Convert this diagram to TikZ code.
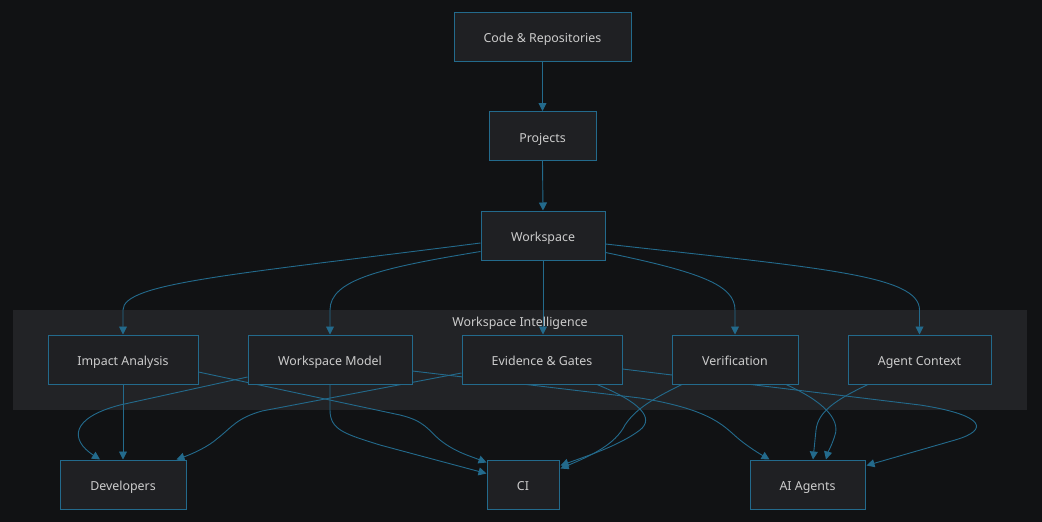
\documentclass[tikz,border=0pt]{standalone}
\usepackage{fontspec}
\setmainfont{Noto Sans}
\usetikzlibrary{arrows.meta,calc}
\definecolor{bgc}{HTML}{111214}
\definecolor{nodefill}{HTML}{1F2023}
\definecolor{clusterfill}{HTML}{222326}
\definecolor{edgec}{HTML}{236A8C}
\definecolor{txt}{HTML}{CCCCCC}
\pgfdeclarelayer{backl}
\pgfdeclarelayer{edgel}
\pgfsetlayers{backl,edgel,main}
\begin{document}
\begin{tikzpicture}[x=1pt,y=-1pt,
  box/.style={draw=edgec, fill=nodefill, line width=1pt, text=txt,
    font=\fontsize{12.4}{14}\selectfont, inner sep=0pt, minimum height=49pt,
    text height=12pt, text depth=0pt},
  clabel/.style={text=txt, font=\fontsize{12.4}{14}\selectfont, inner sep=0pt,
    text height=12pt, text depth=0pt},
  conn/.style={draw=edgec, line width=0.9pt, -{Triangle[length=8pt,width=8pt]}}]
\begin{pgfonlayer}{backl}
  \fill[bgc] (0,0) rectangle (1042,522);
  \fill[clusterfill] (13,310) rectangle (1027,410);
\end{pgfonlayer}
\useasboundingbox (0,0) rectangle (1042,522);

\node[clabel] (cl) at (520,320) {Workspace Intelligence};

\node[box, minimum width=177pt] (code) at (542.5,36.5) {Code \& Repositories};
\node[box, minimum width=107pt] (proj) at (542.5,136) {Projects};
\node[box, minimum width=124pt] (ws) at (543,235.5) {Workspace};

\node[box, minimum width=150pt] (ia) at (123,359.5) {Impact Analysis};
\node[box, minimum width=164pt] (wm) at (330,359.5) {Workspace Model};
\node[box, minimum width=160pt] (eg) at (542,359.5) {Evidence \& Gates};
\node[box, minimum width=126pt] (ver) at (735,359.5) {Verification};
\node[box, minimum width=143pt] (ac) at (919.5,359.5) {Agent Context};

\node[box, minimum width=126pt] (dev) at (123,484.5) {Developers};
\node[box, minimum width=72pt] (ci) at (523,484.5) {CI};
\node[box, minimum width=115pt] (ai) at (807.5,484.5) {AI Agents};

\begin{pgfonlayer}{edgel}
  \draw[conn] (code.south) -- (proj.north);
  \draw[conn] (proj.south) -- (ws.north);

  \draw[conn] ($(ws.west)+(0,7.5)$) .. controls (230,275) and (123,283) .. (123,310) -- (ia.north);
  \draw[conn] ($(ws.south west)+(0,-9)$) .. controls (380,268) and (330,280) .. (330,310) -- (wm.north);
  \draw[conn] (ws.south) -- (ws.south |- eg.north);
  \draw[conn] ($(ws.south east)+(0,-8)$) .. controls (700,272) and (735,285) .. (735,310) -- (ver.north);
  \draw[conn] ($(ws.east)+(0,8.5)$) .. controls (820,268) and (919.5,275) .. (919.5,310) -- (ac.north);

  \draw[conn] (ia.south) -- (dev.north);
  \draw[conn] ($(ia.east)+(0,12.5)$) -- (400,415) .. controls (425,421) and (428,430) .. (440,440) .. controls (455,452) and (470,456) .. ($(ci.north west)+(0,3)$);

  \draw[conn] ($(wm.west)+(0,17.5)$) -- (120,405) .. controls (70,418) and (70,440) .. ($(dev.north)+(-23,0)$);
  \draw[conn] (wm.south) -- (330,410) .. controls (330,430) and (345,434) .. (380,445) -- ($(ci.north west)+(0,14)$);
  \draw[conn] ($(wm.east)+(0,11.5)$) -- (640,398) .. controls (715,410) and (725,428) .. (740,440) .. controls (750,448) and (760,454) .. ($(ai.north west)+(20,0)$);

  \draw[conn] ($(eg.west)+(0,13.5)$) -- (262,411) .. controls (237,418) and (232,427) .. (218,438) .. controls (208,447) and (192,454) .. ($(dev.north east)+(-10,0)$);
  \draw[conn] ($(eg.south)+(55,0)$) .. controls (640,402) and (655,418) .. (640,430) .. controls (620,445) and (590,455) .. ($(ci.north east)+(1,6)$);
  \draw[conn] ($(eg.east)+(0,9.5)$) -- (920,405) .. controls (985,415) and (990,430) .. (955,440) -- ($(ai.north east)+(1,6)$);

  \draw[conn] ($(ver.south)+(-53,0)$) .. controls (650,400) and (635,410) .. (625,425) .. controls (615,445) and (590,456) .. ($(ci.north east)+(1,9)$);
  \draw[conn] ($(ver.south)+(51,0)$) .. controls (825,402) and (840,420) .. (835,435) .. controls (832,445) and (828,452) .. ($(ai.north)+(18.5,0)$);

  \draw[conn] ($(ac.south)+(-51.5,0)$) .. controls (835,400) and (818,412) .. (816,430) -- ($(ai.north)+(5.5,0)$);
\end{pgfonlayer}
\end{tikzpicture}
\end{document}
